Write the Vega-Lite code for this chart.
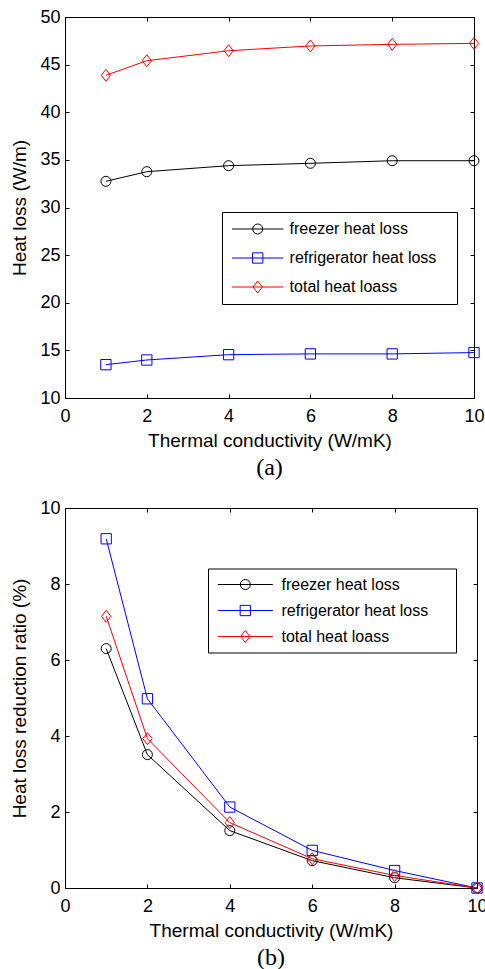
{
  "$schema": "https://vega.github.io/schema/vega-lite/v6.json",
  "background": "white",
  "padding": {"left": 10, "top": 8, "right": 0, "bottom": 0},
  "datasets": {
    "a": [
      {"k": 1, "series": "freezer heat loss", "v": 32.75},
      {"k": 2, "series": "freezer heat loss", "v": 33.76},
      {"k": 4, "series": "freezer heat loss", "v": 34.39},
      {"k": 6, "series": "freezer heat loss", "v": 34.64},
      {"k": 8, "series": "freezer heat loss", "v": 34.91},
      {"k": 10, "series": "freezer heat loss", "v": 34.91},
      {"k": 1, "series": "refrigerator heat loss", "v": 13.5},
      {"k": 2, "series": "refrigerator heat loss", "v": 13.99},
      {"k": 4, "series": "refrigerator heat loss", "v": 14.55},
      {"k": 6, "series": "refrigerator heat loss", "v": 14.63},
      {"k": 8, "series": "refrigerator heat loss", "v": 14.63},
      {"k": 10, "series": "refrigerator heat loss", "v": 14.77},
      {"k": 1, "series": "total heat loass", "v": 43.88},
      {"k": 2, "series": "total heat loass", "v": 45.41},
      {"k": 4, "series": "total heat loass", "v": 46.46},
      {"k": 6, "series": "total heat loass", "v": 46.96},
      {"k": 8, "series": "total heat loass", "v": 47.13},
      {"k": 10, "series": "total heat loass", "v": 47.23}
    ],
    "b": [
      {"k": 1, "series": "freezer heat loss", "v": 6.3},
      {"k": 2, "series": "freezer heat loss", "v": 3.51},
      {"k": 4, "series": "freezer heat loss", "v": 1.51},
      {"k": 6, "series": "freezer heat loss", "v": 0.72},
      {"k": 8, "series": "freezer heat loss", "v": 0.27},
      {"k": 10, "series": "freezer heat loss", "v": 0},
      {"k": 1, "series": "refrigerator heat loss", "v": 9.19},
      {"k": 2, "series": "refrigerator heat loss", "v": 4.98},
      {"k": 4, "series": "refrigerator heat loss", "v": 2.13},
      {"k": 6, "series": "refrigerator heat loss", "v": 0.99},
      {"k": 8, "series": "refrigerator heat loss", "v": 0.46},
      {"k": 10, "series": "refrigerator heat loss", "v": 0},
      {"k": 1, "series": "total heat loass", "v": 7.15},
      {"k": 2, "series": "total heat loass", "v": 3.93},
      {"k": 4, "series": "total heat loass", "v": 1.72},
      {"k": 6, "series": "total heat loass", "v": 0.77},
      {"k": 8, "series": "total heat loass", "v": 0.33},
      {"k": 10, "series": "total heat loass", "v": 0}
    ]
  },
  "config": {
    "view": {"stroke": null},
    "font": "Liberation Sans",
    "axis": {
      "grid": false,
      "domainColor": "black",
      "domainWidth": 1,
      "tickColor": "black",
      "tickWidth": 1,
      "tickSize": -4,
      "labelColor": "black",
      "titleColor": "black",
      "labelFont": "Liberation Sans",
      "titleFont": "Liberation Sans",
      "labelFontSize": 18,
      "titleFontSize": 19,
      "titleFontWeight": "normal",
      "labelFlush": false,
      "labelOverlap": false
    },
    "axisBottom": {"labelPadding": 13, "titlePadding": 6},
    "axisLeft": {"labelPadding": 9, "titlePadding": 10},
    "legend": {
      "title": null,
      "orient": "none",
      "strokeColor": "black",
      "fillColor": "white",
      "labelFont": "Liberation Sans",
      "labelFontSize": 16,
      "labelColor": "black",
      "labelLimit": 400,
      "symbolSize": 100,
      "symbolStrokeWidth": 1,
      "symbolFillColor": "transparent",
      "symbolOpacity": 1
    }
  },
  "spacing": 110,
  "bounds": "flush",
  "resolve": {
    "scale": {"color": "independent", "shape": "independent"},
    "legend": {"color": "independent", "shape": "independent"}
  },
  "vconcat": [
    {
      "width": 409,
      "height": 381,
      "data": {"name": "a"},
      "title": {"text": "(a)", "orient": "bottom", "frame": "group", "anchor": "middle", "font": "Liberation Serif", "fontSize": 24, "fontWeight": "normal", "color": "black", "offset": 6},
      "resolve": {"axis": {"x": "independent", "y": "independent"}},
      "layer": [
        {
          "mark": {"type": "line", "strokeWidth": 1},
          "encoding": {
            "x": {"field": "k", "type": "quantitative", "scale": {"domain": [0, 10], "nice": false, "zero": false},
                  "axis": {"orient": "bottom", "values": [0, 2, 4, 6, 8, 10], "title": "Thermal conductivity (W/mK)"}},
            "y": {"field": "v", "type": "quantitative", "scale": {"domain": [10, 50], "nice": false, "zero": false},
                  "axis": {"orient": "left", "values": [10, 15, 20, 25, 30, 35, 40, 45, 50], "title": "Heat loss (W/m)"}},
            "color": {"field": "series", "type": "nominal",
                      "scale": {"domain": ["freezer heat loss", "refrigerator heat loss", "total heat loass"], "range": ["#000000", "#0000ff", "#ff0000"]},
                      "legend": {
                        "orient": "none", "legendX": 157, "legendY": 195,
                        "padding": 9, "rowPadding": 13,
                        "symbolOffset": 18.7, "labelOffset": 23.9,
                        "labelExpr": "datum.label + '\u2002\u2009\u200b'"
                      }}
          }
        },
        {
          "transform": [{"filter": "datum.series === 'freezer heat loss'"}],
          "mark": {"type": "point", "shape": "circle", "filled": false, "size": 100, "strokeWidth": 1, "opacity": 1},
          "encoding": {
            "x": {"field": "k", "type": "quantitative", "axis": null},
            "y": {"field": "v", "type": "quantitative", "axis": null},
            "color": {"field": "series", "type": "nominal"}
          }
        },
        {
          "transform": [{"filter": "datum.series === 'refrigerator heat loss'"}],
          "mark": {"type": "point", "shape": "M-1.03,-1.03H1.03V1.03H-1.03Z", "filled": false, "size": 100, "strokeWidth": 1, "opacity": 1},
          "encoding": {
            "x": {"field": "k", "type": "quantitative", "axis": null},
            "y": {"field": "v", "type": "quantitative", "axis": null},
            "color": {"field": "series", "type": "nominal"}
          }
        },
        {
          "transform": [{"filter": "datum.series === 'total heat loass'"}],
          "mark": {"type": "point", "shape": "M0,-1.2L0.93,0L0,1.2L-0.93,0Z", "filled": false, "size": 100, "strokeWidth": 1, "opacity": 1},
          "encoding": {
            "x": {"field": "k", "type": "quantitative", "axis": null},
            "y": {"field": "v", "type": "quantitative", "axis": null},
            "color": {"field": "series", "type": "nominal"}
          }
        },
        {
          "mark": {"type": "point", "filled": false, "opacity": 0},
          "encoding": {
            "x": {"field": "k", "type": "quantitative", "axis": {"orient": "top", "values": [0, 2, 4, 6, 8, 10], "labels": false, "title": null}},
            "y": {"field": "v", "type": "quantitative", "axis": {"orient": "right", "values": [10, 15, 20, 25, 30, 35, 40, 45, 50], "labels": false, "title": null}},
            "color": {"field": "series", "type": "nominal"},
            "shape": {"field": "series", "type": "nominal",
                      "scale": {"domain": ["freezer heat loss", "refrigerator heat loss", "total heat loass"],
                                "range": ["M-5.13,0H5.13M1,0A1,1,0,1,1,-1,0A1,1,0,1,1,1,0", "M-5.13,0H5.13M-1.03,-1.03H1.03V1.03H-1.03Z", "M-5.13,0H5.13M0,-1.2L0.93,0L0,1.2L-0.93,0Z"]},
                      "legend": {
                        "orient": "none", "legendX": 157, "legendY": 195,
                        "padding": 9, "rowPadding": 13,
                        "symbolOffset": 18.7, "labelOffset": 23.9,
                        "labelExpr": "datum.label + '\u2002\u2009\u200b'"
                      }}
          }
        }
      ]
    },
    {
      "width": 412,
      "height": 380,
      "data": {"name": "b"},
      "title": {"text": "(b)", "orient": "bottom", "frame": "group", "anchor": "middle", "font": "Liberation Serif", "fontSize": 24, "fontWeight": "normal", "color": "black", "offset": 6},
      "resolve": {"axis": {"x": "independent", "y": "independent"}},
      "layer": [
        {
          "mark": {"type": "line", "strokeWidth": 1},
          "encoding": {
            "x": {"field": "k", "type": "quantitative", "scale": {"domain": [0, 10], "nice": false, "zero": false},
                  "axis": {"orient": "bottom", "values": [0, 2, 4, 6, 8, 10], "title": "Thermal conductivity (W/mK)"}},
            "y": {"field": "v", "type": "quantitative", "scale": {"domain": [0, 10], "nice": false, "zero": false},
                  "axis": {"orient": "left", "values": [0, 2, 4, 6, 8, 10], "title": "Heat loss reduction ratio (%)"}},
            "color": {"field": "series", "type": "nominal",
                      "scale": {"domain": ["freezer heat loss", "refrigerator heat loss", "total heat loass"], "range": ["#000000", "#0000ff", "#ff0000"]},
                      "legend": {
                        "orient": "none", "legendX": 143, "legendY": 60.5,
                        "padding": 8, "rowPadding": 10,
                        "symbolOffset": 21.3, "labelOffset": 28.2,
                        "labelExpr": "datum.label + '\u2002\u2002\u2009\u200b'"
                      }}
          }
        },
        {
          "transform": [{"filter": "datum.series === 'freezer heat loss'"}],
          "mark": {"type": "point", "shape": "circle", "filled": false, "size": 100, "strokeWidth": 1, "opacity": 1},
          "encoding": {
            "x": {"field": "k", "type": "quantitative", "axis": null},
            "y": {"field": "v", "type": "quantitative", "axis": null},
            "color": {"field": "series", "type": "nominal"}
          }
        },
        {
          "transform": [{"filter": "datum.series === 'refrigerator heat loss'"}],
          "mark": {"type": "point", "shape": "M-1.03,-1.03H1.03V1.03H-1.03Z", "filled": false, "size": 100, "strokeWidth": 1, "opacity": 1},
          "encoding": {
            "x": {"field": "k", "type": "quantitative", "axis": null},
            "y": {"field": "v", "type": "quantitative", "axis": null},
            "color": {"field": "series", "type": "nominal"}
          }
        },
        {
          "transform": [{"filter": "datum.series === 'total heat loass'"}],
          "mark": {"type": "point", "shape": "M0,-1.2L0.93,0L0,1.2L-0.93,0Z", "filled": false, "size": 100, "strokeWidth": 1, "opacity": 1},
          "encoding": {
            "x": {"field": "k", "type": "quantitative", "axis": null},
            "y": {"field": "v", "type": "quantitative", "axis": null},
            "color": {"field": "series", "type": "nominal"}
          }
        },
        {
          "mark": {"type": "point", "filled": false, "opacity": 0},
          "encoding": {
            "x": {"field": "k", "type": "quantitative", "axis": {"orient": "top", "values": [0, 2, 4, 6, 8, 10], "labels": false, "title": null}},
            "y": {"field": "v", "type": "quantitative", "axis": {"orient": "right", "values": [0, 2, 4, 6, 8, 10], "labels": false, "title": null}},
            "color": {"field": "series", "type": "nominal"},
            "shape": {"field": "series", "type": "nominal",
                      "scale": {"domain": ["freezer heat loss", "refrigerator heat loss", "total heat loass"],
                                "range": ["M-5.5,0H5.5M1,0A1,1,0,1,1,-1,0A1,1,0,1,1,1,0", "M-5.5,0H5.5M-1.03,-1.03H1.03V1.03H-1.03Z", "M-5.5,0H5.5M0,-1.2L0.93,0L0,1.2L-0.93,0Z"]},
                      "legend": {
                        "orient": "none", "legendX": 143, "legendY": 60.5,
                        "padding": 8, "rowPadding": 10,
                        "symbolOffset": 21.3, "labelOffset": 28.2,
                        "labelExpr": "datum.label + '\u2002\u2002\u2009\u200b'"
                      }}
          }
        }
      ]
    }
  ]
}
